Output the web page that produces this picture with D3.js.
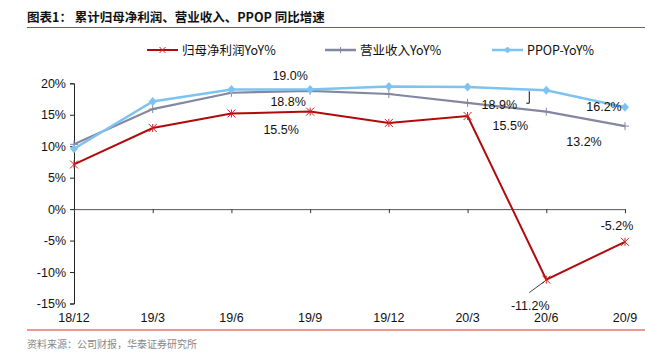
<!DOCTYPE html>
<html><head><meta charset="utf-8">
<script src="https://cdn.jsdelivr.net/npm/d3@7"></script>
<style>
body{margin:0;background:#fff;}
svg{display:block;font-family:"Liberation Sans",Arial,"Noto Sans CJK SC",sans-serif;}
</style></head>
<body><svg id="c" width="645" height="354"></svg>
<script>
const categories = ["18/12","19/3","19/6","19/9","19/12","20/3","20/6","20/9"];
const netProfit = [7.1, 12.9, 15.2, 15.5, 13.7, 14.8, -11.2, -5.2];
const revenue = [10.3, 15.9, 18.5, 18.8, 18.3, 16.9, 15.5, 13.2];
const ppop = [9.6, 17.1, 19.0, 19.0, 19.5, 19.4, 18.9, 16.2];
const yTicks = [20, 15, 10, 5, 0, -5, -10, -15];
const seriesNames = ["归母净利润YoY%", "营业收入YoY%", "PPOP-YoY%"];

const svg = d3.select("#c");
const cjk = '"Noto Sans CJK SC","Liberation Sans",sans-serif';

const x = d3.scalePoint().domain(categories).range([74, 625]);
const y = d3.scaleLinear().domain([-15, 20]).range([303.5, 83.3]);

// title
svg.append("text").attr("x", 27).attr("y", 22).attr("font-family", cjk)
  .attr("font-size", 12.5).attr("font-weight", "bold").attr("fill", "#111")
  .text("图表1：  累计归母净利润、营业收入、PPOP 同比增速");
svg.append("line").attr("x1", 27).attr("x2", 645).attr("y1", 27.5).attr("y2", 27.5)
  .attr("stroke", "#e03020").attr("stroke-width", 1);
svg.append("line").attr("x1", 27).attr("x2", 645).attr("y1", 330).attr("y2", 330)
  .attr("stroke", "#e03020").attr("stroke-width", 1);
svg.append("text").attr("x", 27).attr("y", 348).attr("font-family", cjk)
  .attr("font-size", 10).attr("fill", "#888").text("资料来源：公司财报，华泰证券研究所");

// y axis
const yAxis = d3.axisLeft(y).tickValues(yTicks).tickSize(4).tickFormat(d => d + "%");
const gy = svg.append("g").attr("transform", "translate(74,0)").call(yAxis);
gy.select(".domain").attr("stroke", "#222");
gy.selectAll(".tick line").attr("stroke", "#222");
gy.selectAll(".tick text").attr("font-size", 12.5).attr("fill", "#111").attr("x", -8)
  .attr("font-family", '"Liberation Sans",Arial,sans-serif');

// x axis at zero
const xAxis = d3.axisBottom(x).tickSize(4).tickSizeOuter(0).tickFormat("");
const gx = svg.append("g").attr("transform", `translate(0,${y(0)})`).call(xAxis);
gx.select(".domain").attr("stroke", "#555");
gx.selectAll(".tick line").attr("stroke", "#333");
svg.append("g").selectAll("text").data(categories).join("text")
  .attr("x", d => x(d)).attr("y", 322).attr("text-anchor", "middle")
  .attr("font-size", 12.5).attr("fill", "#111").text(d => d);

const line = d3.line().x((d, i) => x(categories[i])).y(d => y(d));

// revenue (gray)
const gray = "#8487A0";
svg.append("path").datum(revenue).attr("d", line).attr("fill", "none")
  .attr("stroke", gray).attr("stroke-width", 2.2);
svg.append("g").selectAll("path").data(revenue).join("path")
  .attr("d", (d, i) => { const cx = x(categories[i]), cy = y(d); return `M${cx - 4},${cy}H${cx + 4}M${cx},${cy - 4}V${cy + 4}`; })
  .attr("stroke", gray).attr("stroke-width", 1);

// ppop (light blue)
const blue = "#7DC3F2";
svg.append("path").datum(ppop).attr("d", line).attr("fill", "none")
  .attr("stroke", blue).attr("stroke-width", 2.5);
svg.append("g").selectAll("path").data(ppop).join("path")
  .attr("d", (d, i) => { const cx = x(categories[i]), cy = y(d); return `M${cx},${cy - 4.5}L${cx + 4},${cy}L${cx},${cy + 4.5}L${cx - 4},${cy}Z`; })
  .attr("fill", blue);

// net profit (red)
const red = "#B00A0A";
svg.append("path").datum(netProfit).attr("d", line).attr("fill", "none")
  .attr("stroke", red).attr("stroke-width", 2);
svg.append("g").selectAll("path").data(netProfit).join("path")
  .attr("d", (d, i) => { const cx = x(categories[i]), cy = y(d); return `M${cx - 4},${cy - 4}L${cx + 4},${cy + 4}M${cx - 4},${cy + 4}L${cx + 4},${cy - 4}M${cx},${cy - 4}V${cy + 4}`; })
  .attr("stroke", "#D02020").attr("stroke-width", 1);

// data labels
const lbl = (t, lx, ly) => svg.append("text").attr("x", lx).attr("y", ly).attr("text-anchor", "middle")
  .attr("font-size", 12.5).attr("fill", "#111").text(t);
const fmt = v => v.toFixed(1) + "%";
lbl(fmt(ppop[3]), x(categories[3]) - 20, y(ppop[3]) - 10);
lbl(fmt(revenue[3]), x(categories[3]) - 22, y(revenue[3]) + 15);
lbl(fmt(netProfit[3]), x(categories[3]) - 29, y(netProfit[3]) + 22);
lbl(fmt(ppop[6]), x(categories[6]) - 47, y(ppop[6]) + 19);
lbl(fmt(revenue[6]), x(categories[6]) - 36, y(revenue[6]) + 18);
lbl(fmt(ppop[7]), x(categories[7]) - 21, y(ppop[7]) + 4);
lbl(fmt(revenue[7]), x(categories[7]) - 41, y(revenue[7]) + 20);
lbl(fmt(netProfit[7]), x(categories[7]) - 8, y(netProfit[7]) - 12);
lbl(fmt(netProfit[6]), x(categories[6]) - 16, y(netProfit[6]) + 30);
// leader lines
const px = x(categories[6]);
svg.append("path").attr("d", `M${px - 20},${y(ppop[6]) + 13}H${px - 17}V${y(ppop[6]) + 1}`)
  .attr("fill", "none").attr("stroke", "#111").attr("stroke-width", 1);
svg.append("line").attr("x1", px - 17).attr("y1", y(netProfit[6]) + 13)
  .attr("x2", px - 2).attr("y2", y(netProfit[6]) + 2).attr("stroke", "#111").attr("stroke-width", 0.8);

// legend
const leg = [
  {name: seriesNames[0], x: 147, color: red, mark: "x"},
  {name: seriesNames[1], x: 325, color: gray, mark: "+"},
  {name: seriesNames[2], x: 492, color: blue, mark: "d"}
];
const lg = svg.append("g");
leg.forEach(l => {
  const ly = 50;
  lg.append("line").attr("x1", l.x).attr("x2", l.x + 31).attr("y1", ly).attr("y2", ly)
    .attr("stroke", l.color).attr("stroke-width", l.mark === "x" ? 2 : 2.5);
  const cx = l.x + 15.5;
  let d;
  if (l.mark === "x") d = `M${cx - 3},${ly - 3}L${cx + 3},${ly + 3}M${cx - 3},${ly + 3}L${cx + 3},${ly - 3}`;
  else if (l.mark === "+") d = `M${cx},${ly - 3}V${ly + 3}`;
  else d = `M${cx},${ly - 3}L${cx + 3},${ly}L${cx},${ly + 3}L${cx - 3},${ly}Z`;
  lg.append("path").attr("d", d).attr("stroke", l.mark === "x" ? "#D02020" : l.color)
    .attr("fill", l.mark === "d" ? l.color : "none").attr("stroke-width", 1);
  lg.append("text").attr("x", l.x + 35).attr("y", ly + 4.5).attr("font-size", 12.5)
    .attr("fill", "#111").attr("font-family", cjk).text(l.name);
});
</script></body></html>
